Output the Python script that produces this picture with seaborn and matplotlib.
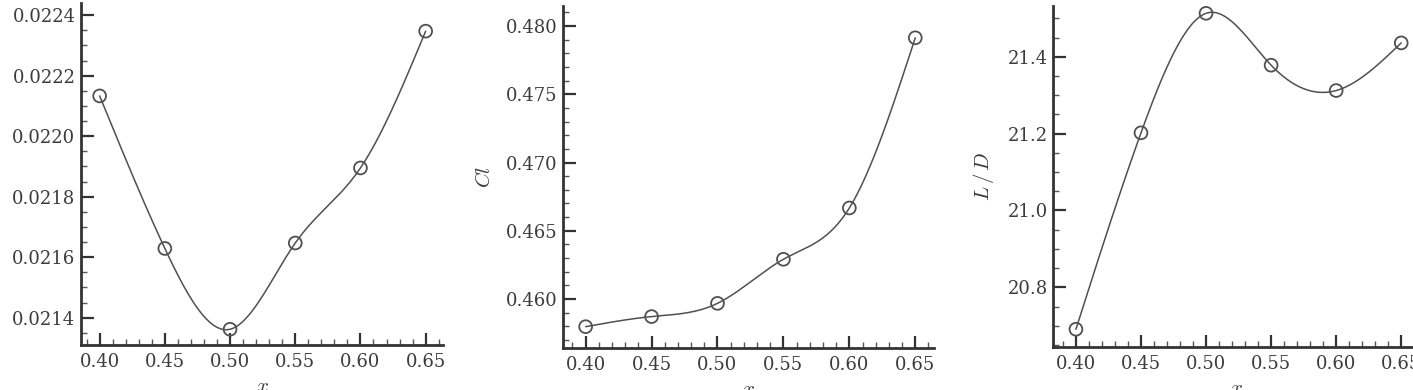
import numpy as np
import pandas as pd
import matplotlib
matplotlib.use("Agg")
import matplotlib.pyplot as plt
from matplotlib.ticker import MultipleLocator, FormatStrFormatter
import seaborn as sns

# ---- data ----
x_vals = [0.40, 0.45, 0.50, 0.55, 0.60, 0.65]
cd_vals = [0.022133, 0.021629, 0.021362, 0.021647, 0.021895, 0.022347]
cl_vals = [0.45797, 0.45871, 0.45968, 0.46291, 0.46667, 0.47914]
ld_vals = [20.691, 21.202, 21.513, 21.378, 21.312, 21.436]
x_ticks = [0.40, 0.45, 0.50, 0.55, 0.60, 0.65]
y_labels = ["", "$Cl$", "$L\\,/\\,D$"]

sns.set_theme(style="ticks")
plt.rcParams["font.family"] = ["DejaVu Serif"]
plt.rcParams["mathtext.fontset"] = "cm"


def natural_spline(x, y, n=300):
    x = np.asarray(x, float)
    y = np.asarray(y, float)
    m = len(x)
    h = np.diff(x)
    A = np.zeros((m, m))
    b = np.zeros(m)
    A[0, 0] = 1
    A[-1, -1] = 1
    for i in range(1, m - 1):
        A[i, i - 1] = h[i - 1]
        A[i, i] = 2 * (h[i - 1] + h[i])
        A[i, i + 1] = h[i]
        b[i] = 6 * ((y[i + 1] - y[i]) / h[i] - (y[i] - y[i - 1]) / h[i - 1])
    M = np.linalg.solve(A, b)
    xs = np.linspace(x[0], x[-1], n)
    idx = np.clip(np.searchsorted(x, xs) - 1, 0, m - 2)
    x0, x1 = x[idx], x[idx + 1]
    hh = x1 - x0
    ys = (M[idx] * (x1 - xs) ** 3 / (6 * hh) + M[idx + 1] * (xs - x0) ** 3 / (6 * hh)
          + (y[idx] / hh - M[idx] * hh / 6) * (x1 - xs)
          + (y[idx + 1] / hh - M[idx + 1] * hh / 6) * (xs - x0))
    return xs, ys


fig = plt.figure(figsize=(14.13, 3.90), dpi=100)
W, H = 1413.0, 390.0
boxes = [
    (81, 443, 3, 345),
    (562.7, 934, 6, 347.7),
    (1053.3, 1419.7, 6, 346.7),
]
series = [cd_vals, cl_vals, ld_vals]
ylims = [(0.02131, 0.02244), (0.45643, 0.48147), (20.6455, 21.532)]
xlims = [(0.3857, 0.6633), (0.3826, 0.6642), (0.3826, 0.6642)]
ymajor = [0.0002, 0.005, 0.2]
yminor = [0.00005, 0.001, 0.05]
yfmt = ["%.4f", "%.3f", "%.1f"]

line_col = "#505050"
axis_col = "#333333"
text_col = "#3c3c3c"

for i, (l, r, t, btm) in enumerate(boxes):
    ax = fig.add_axes([l / W, (H - btm) / H, (r - l) / W, (btm - t) / H])
    xs, ys = natural_spline(x_vals, series[i])
    sns.lineplot(x=xs, y=ys, ax=ax, color=line_col, linewidth=1.1, sort=False)
    sns.scatterplot(x=x_vals, y=series[i], ax=ax, s=85, facecolor="none",
                    edgecolor=line_col, linewidth=1.3, marker="o", zorder=3)
    ax.set_xlim(*xlims[i])
    ax.set_ylim(*ylims[i])
    ax.set_xticks(x_ticks)
    ax.xaxis.set_major_formatter(FormatStrFormatter("%.2f"))
    ax.xaxis.set_minor_locator(MultipleLocator(0.01))
    ax.yaxis.set_major_locator(MultipleLocator(ymajor[i]))
    ax.yaxis.set_minor_locator(MultipleLocator(yminor[i]))
    ax.yaxis.set_major_formatter(FormatStrFormatter(yfmt[i]))
    sns.despine(ax=ax)
    for s in ["left", "bottom"]:
        ax.spines[s].set_linewidth(2.0)
        ax.spines[s].set_color(axis_col)
    ax.tick_params(which="major", direction="in", length=9, width=1.6,
                   color=axis_col, labelsize=13, labelcolor=text_col, pad=6)
    ax.tick_params(axis="y", which="major", pad=4)
    ax.tick_params(which="minor", direction="in", length=4.5, width=1.0,
                   color="#555555")
    ax.set_xlabel("$x$", fontsize=15, color=text_col, labelpad=4)
    ax.set_ylabel(y_labels[i], fontsize=15, color=text_col, labelpad=8)

fig.savefig("out.png", dpi=100)
